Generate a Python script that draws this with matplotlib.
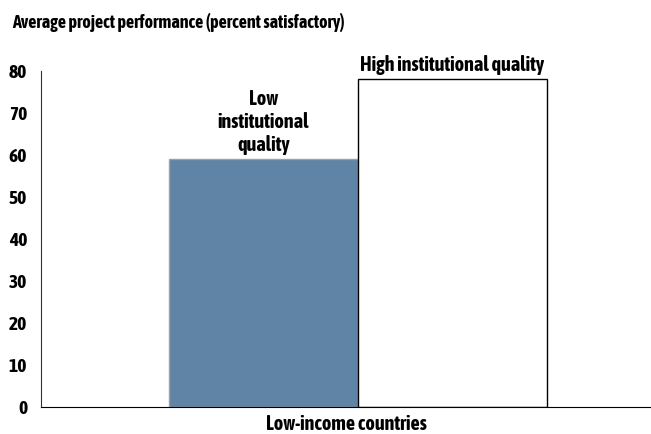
import matplotlib
matplotlib.use("Agg")
import matplotlib.pyplot as plt

plt.rcParams['font.family'] = ['Asap Condensed', 'Liberation Sans', 'DejaVu Sans']
plt.rcParams['font.weight'] = 'bold'

categories = ["Low\ninstitutional\nquality", "High institutional quality"]
values = [59, 78]
colors = ["#5F84A6", "white"]
edges = ["#A0A0A0", "black"]
yticks = [0, 10, 20, 30, 40, 50, 60, 70, 80]

fig = plt.figure(figsize=(6.51, 4.34), dpi=100)
ax = fig.add_axes([41 / 651, 1 - 407 / 434, 610 / 651, 336 / 434])

pos = [0, 1]
ax.bar(pos, values, width=1.0, color=colors, edgecolor=edges, linewidth=1.0)

for p, v, lab in zip(pos, values, categories):
    ax.text(p, v + 1.0, lab, ha='center', va='bottom', fontsize=14.5,
            fontweight='bold', linespacing=1.2)

ax.set_xlim(-1.177, 2.05)
ax.set_ylim(0, 80)
ax.set_yticks(yticks)
ax.set_xticks([])
ax.tick_params(axis='y', length=0, pad=10, labelsize=14)
for t in ax.get_yticklabels():
    t.set_fontweight('bold')
for s in ['top', 'right']:
    ax.spines[s].set_visible(False)
ax.spines['left'].set_color('#333333')
ax.spines['bottom'].set_color('black')
ax.set_xlabel("Low-income countries", fontsize=14.5, fontweight='bold', labelpad=5)

fig.text(12 / 651, 1 - 22 / 434, "Average project performance (percent satisfactory)",
         fontsize=13, fontweight='bold', va='center', ha='left')

fig.savefig("out.png", dpi=100)
